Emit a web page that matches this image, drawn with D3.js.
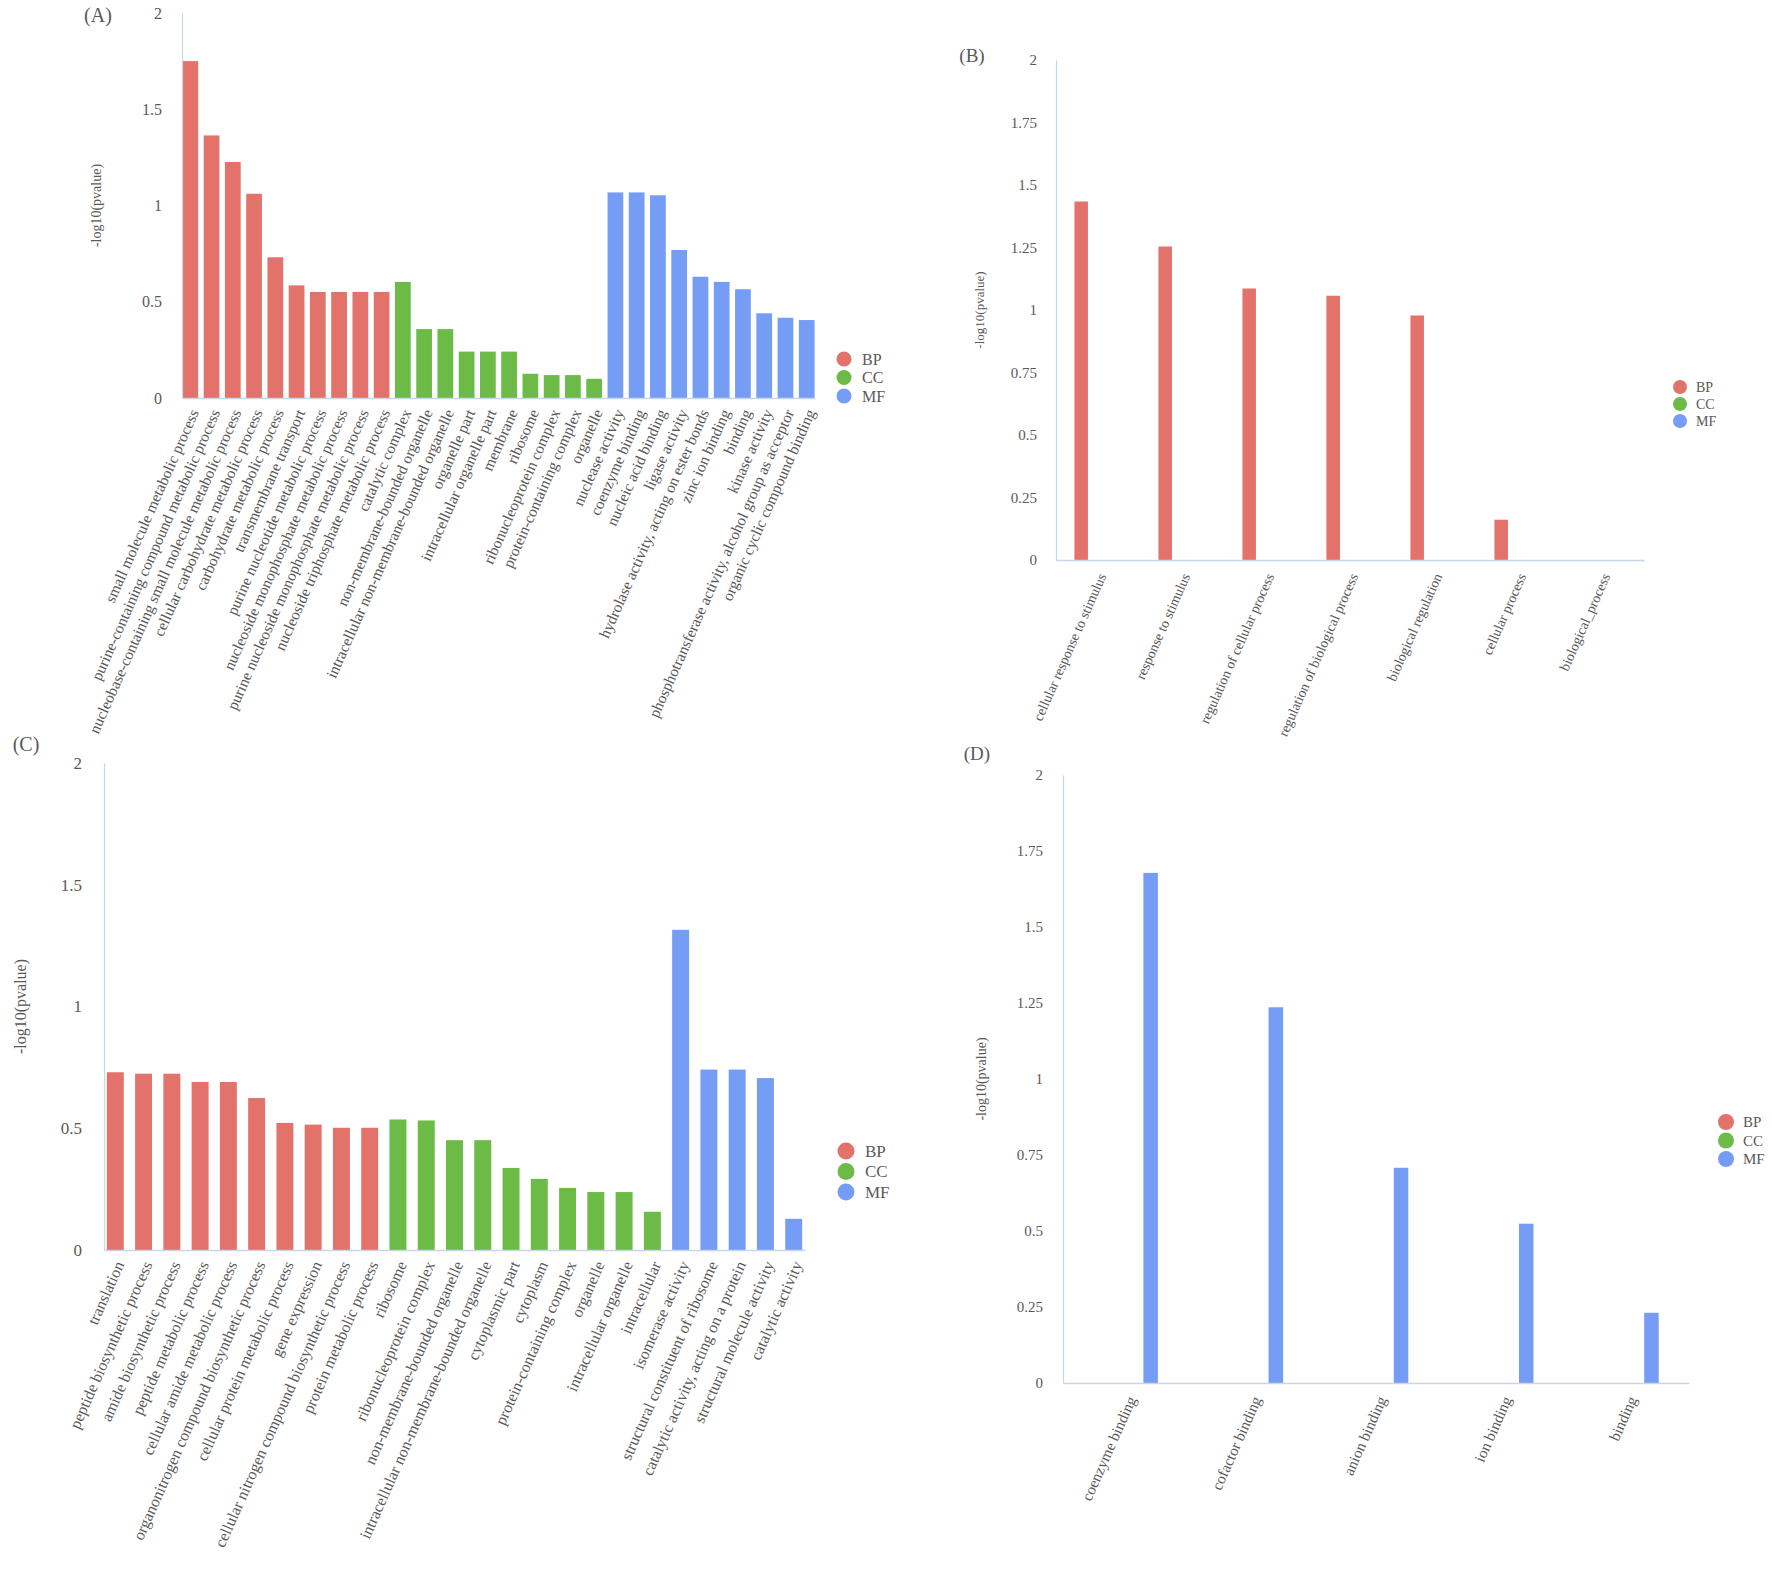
<!DOCTYPE html>
<html>
<head>
<meta charset="utf-8">
<script src="https://cdn.jsdelivr.net/npm/d3@7"></script>
<style>
  body { margin: 0; background: #fff; }
  text { font-family: "Liberation Serif", "Times New Roman", serif; fill: #595959; }
</style>
</head>
<body>
<script>
var groups = ["BP", "CC", "MF"];
var groupColors = ["#e2726a", "#6bbb46", "#759df6"];

// panel A
var termsA_BP = ["small molecule metabolic process", "purine-containing compound metabolic process",
  "nucleobase-containing small molecule metabolic process", "cellular carbohydrate metabolic process",
  "carbohydrate metabolic process", "transmembrane transport", "purine nucleotide metabolic process",
  "nucleoside monophosphate metabolic process", "purine nucleoside monophosphate metabolic process",
  "nucleoside triphosphate metabolic process"];
var valuesA_BP = [1.75, 1.364, 1.226, 1.061, 0.731, 0.585, 0.551, 0.551, 0.551, 0.551];
var termsA_CC = ["catalytic complex", "non-membrane-bounded organelle", "intracellular non-membrane-bounded organelle",
  "organelle part", "intracellular organelle part", "membrane", "ribosome", "ribonucleoprotein complex",
  "protein-containing complex", "organelle"];
var valuesA_CC = [0.603, 0.358, 0.358, 0.241, 0.241, 0.241, 0.126, 0.119, 0.119, 0.100];
var termsA_MF = ["nuclease activity", "coenzyme binding", "nucleic acid binding", "ligase activity",
  "hydrolase activity, acting on ester bonds", "zinc ion binding", "binding", "kinase activity",
  "phosphotransferase activity, alcohol group as acceptor", "organic cyclic compound binding"];
var valuesA_MF = [1.068, 1.068, 1.053, 0.769, 0.630, 0.603, 0.565, 0.440, 0.417, 0.405];

// panel B
var termsB_BP = ["cellular response to stimulus", "response to stimulus", "regulation of cellular process",
  "regulation of biological process", "biological regulation", "cellular process", "biological_process"];
var valuesB_BP = [1.434, 1.254, 1.086, 1.057, 0.978, 0.161, 0];

// panel C
var termsC_BP = ["translation", "peptide biosynthetic process", "amide biosynthetic process",
  "peptide metabolic process", "cellular amide metabolic process", "organonitrogen compound biosynthetic process",
  "cellular protein metabolic process", "gene expression", "cellular nitrogen compound biosynthetic process",
  "protein metabolic process"];
var valuesC_BP = [0.730, 0.724, 0.724, 0.690, 0.690, 0.624, 0.522, 0.515, 0.502, 0.502];
var termsC_CC = ["ribosome", "ribonucleoprotein complex", "non-membrane-bounded organelle",
  "intracellular non-membrane-bounded organelle", "cytoplasmic part", "cytoplasm", "protein-containing complex",
  "organelle", "intracellular organelle", "intracellular"];
var valuesC_CC = [0.536, 0.532, 0.451, 0.451, 0.337, 0.292, 0.255, 0.238, 0.238, 0.157];
var termsC_MF = ["isomerase activity", "structural constituent of ribosome", "catalytic activity, acting on a protein",
  "structural molecule activity", "catalytic activity"];
var valuesC_MF = [1.315, 0.741, 0.741, 0.706, 0.128];

// panel D
var termsD_MF = ["coenzyme binding", "cofactor binding", "anion binding", "ion binding", "binding"];
var valuesD_MF = [1.678, 1.236, 0.708, 0.524, 0.231];

var ticksHalf = [0, 0.5, 1, 1.5, 2];
var ticksQuarter = [0, 0.25, 0.5, 0.75, 1, 1.25, 1.5, 1.75, 2];

function rows(terms, values, group) {
  return terms.map(function (t, i) { return { term: t, value: values[i], group: group }; });
}

var svg = d3.select("body").append("svg").attr("width", 1772).attr("height", 1581);

function drawPanel(cfg, data) {
  var g = svg.append("g");
  var x = d3.scaleBand().domain(data.map(function (d) { return d.term; }))
    .range([cfg.x0, cfg.x1]).paddingInner(cfg.padIn).paddingOuter(cfg.padOut);
  var y = d3.scaleLinear().domain([0, 2]).range([cfg.y0, cfg.y1]);
  var color = d3.scaleOrdinal().domain(groups).range(groupColors);

  // bars (B and D are clustered: BP left, CC middle, MF right of the category centre)
  var sub = d3.scalePoint().domain(groups).range([0.3 * x.step(), 0.7 * x.step()]);
  g.selectAll("rect.bar").data(data).enter().append("rect")
    .attr("class", "bar")
    .attr("x", function (d) { return cfg.cluster ? x(d.term) + sub(d.group) - cfg.barW / 2 : x(d.term); })
    .attr("width", cfg.cluster ? cfg.barW : x.bandwidth())
    .attr("y", function (d) { return y(d.value); })
    .attr("height", function (d) { return y(0) - y(d.value); })
    .attr("fill", function (d) { return color(d.group); });

  // y axis
  var ya = g.append("g").attr("transform", "translate(" + cfg.x0 + ",0)")
    .call(d3.axisLeft(y).tickValues(cfg.ticks).tickFormat(function (d) { return String(d); })
      .tickSize(0).tickPadding(cfg.tickPad));
  ya.select(".domain").attr("stroke", "#c9d5ea").attr("stroke-width", 1.2);
  ya.selectAll("text").attr("font-size", cfg.tickFs).attr("fill", "#595959")
    .style("font-family", "'Liberation Serif', serif");

  // x axis with rotated term labels
  var xa = g.append("g").attr("transform", "translate(0," + cfg.y0 + ")")
    .call(d3.axisBottom(x).tickSize(0).tickSizeOuter(0));
  xa.select(".domain").attr("stroke", "#c9d5ea").attr("stroke-width", 1.5);
  xa.selectAll("text")
    .attr("font-size", cfg.labelFs).attr("fill", "#595959")
    .style("font-family", "'Liberation Serif', serif")
    .attr("text-anchor", "end")
    .attr("x", 0).attr("y", 0).attr("dy", "0.35em")
    .attr("transform", "translate(" + cfg.labDx + "," + cfg.labDy + ") rotate(" + cfg.angle + ")");

  // axis title
  g.append("text")
    .attr("transform", "translate(" + cfg.titleX + "," + (cfg.y0 + cfg.y1) / 2 + ") rotate(-90)")
    .attr("text-anchor", "middle").attr("dy", "0.35em")
    .attr("font-size", cfg.titleFs)
    .text("-log10(pvalue)");

  // panel letter
  g.append("text").attr("x", cfg.letterX).attr("y", cfg.letterY)
    .attr("text-anchor", "middle").attr("dy", "0.35em")
    .attr("font-size", cfg.letterFs).attr("fill", "#222")
    .text(cfg.letter);

  // legend
  var leg = g.selectAll("g.leg").data(groups).enter().append("g")
    .attr("transform", function (d, i) { return "translate(" + cfg.legX + "," + (cfg.legY + i * cfg.legDy) + ")"; });
  leg.append("circle").attr("r", cfg.legR).attr("fill", function (d) { return color(d); });
  leg.append("text").attr("x", cfg.legTx).attr("dy", "0.35em")
    .attr("font-size", cfg.legFs).attr("fill", "#404040")
    .text(function (d) { return d; });
}

drawPanel({
  letter: "(A)", letterX: 98, letterY: 15, letterFs: 20,
  x0: 182, x1: 815, y0: 398, y1: 13, padIn: 0.26, padOut: 0.02, cluster: false,
  ticks: ticksHalf, tickFs: 16, tickPad: 20,
  labelFs: 15.5, labDx: 4, labDy: 12, angle: -66,
  titleX: 96, titleFs: 14,
  legX: 844, legY: 359, legDy: 18.5, legR: 7.5, legTx: 18, legFs: 16
}, rows(termsA_BP, valuesA_BP, "BP").concat(rows(termsA_CC, valuesA_CC, "CC"), rows(termsA_MF, valuesA_MF, "MF")));

drawPanel({
  letter: "(B)", letterX: 972, letterY: 55, letterFs: 19,
  x0: 1056, x1: 1644, y0: 560, y1: 60, padIn: 0, padOut: 0, cluster: true, barW: 13.5,
  ticks: ticksQuarter, tickFs: 15, tickPad: 19,
  labelFs: 14, labDx: 4, labDy: 14, angle: -66,
  titleX: 979, titleFs: 13,
  legX: 1680, legY: 387, legDy: 17, legR: 7, legTx: 16, legFs: 14
}, rows(termsB_BP, valuesB_BP, "BP"));

drawPanel({
  letter: "(C)", letterX: 26, letterY: 744, letterFs: 20,
  x0: 104, x1: 805, y0: 1250, y1: 763, padIn: 0.4, padOut: 0.1, cluster: false,
  ticks: ticksHalf, tickFs: 17, tickPad: 22,
  labelFs: 16, labDx: 4, labDy: 12, angle: -66,
  titleX: 20, titleFs: 16,
  legX: 846, legY: 1151, legDy: 20.5, legR: 8.5, legTx: 19, legFs: 17
}, rows(termsC_BP, valuesC_BP, "BP").concat(rows(termsC_CC, valuesC_CC, "CC"), rows(termsC_MF, valuesC_MF, "MF")));

drawPanel({
  letter: "(D)", letterX: 977, letterY: 753, letterFs: 19,
  x0: 1063, x1: 1689, y0: 1383, y1: 775, padIn: 0, padOut: 0, cluster: true, barW: 14.5,
  ticks: ticksQuarter, tickFs: 15, tickPad: 20,
  labelFs: 15.3, labDx: 6, labDy: 14, angle: -66,
  titleX: 981, titleFs: 14,
  legX: 1726, legY: 1122, legDy: 18.5, legR: 8, legTx: 17, legFs: 15
}, rows(termsD_MF, valuesD_MF, "MF"));
</script>
</body>
</html>
